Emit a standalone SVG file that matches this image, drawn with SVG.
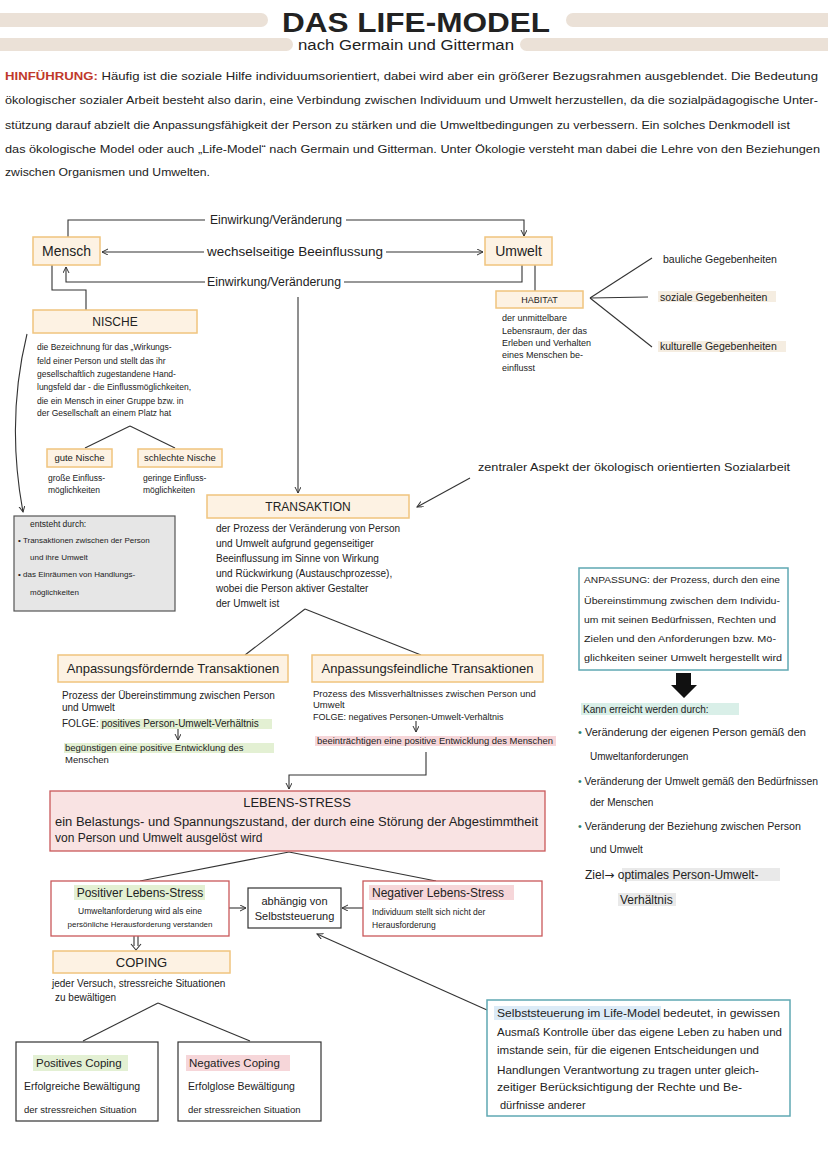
<svg xmlns="http://www.w3.org/2000/svg" width="828" height="1171" viewBox="0 0 828 1171">
<defs>
<marker id="ah" markerWidth="8" markerHeight="8" refX="6" refY="3" orient="auto" markerUnits="userSpaceOnUse">
<path d="M0,0 L6,3 L0,6" fill="none" stroke="#333" stroke-width="1"/>
</marker>
<style>
text{font-family:"Liberation Sans",Arial,sans-serif;fill:#222}
.bar{fill:#ebe1d7}
.ob{fill:#fdf2e3;stroke:#f0c47e;stroke-width:1.5}
.rb{fill:#f9e3e3;stroke:#c9585a;stroke-width:1.3}
.rw{fill:#fff;stroke:#c9585a;stroke-width:1.3}
.kb{fill:#fff;stroke:#333;stroke-width:1.2}
.tb{fill:#fff;stroke:#5fa8b3;stroke-width:1.5}
.gb{fill:#e6e6e6;stroke:#555;stroke-width:1.2}
.ln{fill:none;stroke:#333;stroke-width:1.1}
.hg{fill:#e3f0d3}
.hp{fill:#f6d6d9}
.hb{fill:#dcebf7}
.ht{fill:#d9efe8}
.hy{fill:#e9e9e9}
.hc{fill:#f5ede1}
.s8{font-size:8px}
.s85{font-size:8.5px}
.s9{font-size:9px}
.s95{font-size:9.5px}
.s10{font-size:10px}
.s105{font-size:10.5px}
.s11{font-size:11px}
.s115{font-size:11.5px}
.s12{font-size:12px}
.s13{font-size:13px}
.s14{font-size:14px}
.mid{text-anchor:middle}
</style>
</defs>

<g id="header">
<rect class="bar" x="-10" y="13" width="278" height="14" rx="7"/>
<rect class="bar" x="566" y="13" width="272" height="14" rx="7"/>
<rect class="bar" x="-10" y="38" width="303" height="13" rx="6.5"/>
<rect class="bar" x="520" y="38" width="318" height="13" rx="6.5"/>
<text x="282" y="32" font-size="27" font-weight="bold" textLength="268" lengthAdjust="spacingAndGlyphs">DAS LIFE-MODEL</text>
<text x="298" y="50" class="s14" textLength="216" lengthAdjust="spacingAndGlyphs">nach Germain und Gitterman</text>
</g>

<g id="intro" class="s11">
<text x="5" y="80" textLength="813" lengthAdjust="spacingAndGlyphs"><tspan font-weight="bold" style="fill:#c0392b">HINFÜHRUNG:</tspan> Häufig ist die soziale Hilfe individuumsorientiert, dabei wird aber ein größerer Bezugsrahmen ausgeblendet. Die Bedeutung</text>
<text x="5" y="104" textLength="813" lengthAdjust="spacingAndGlyphs">ökologischer sozialer Arbeit besteht also darin, eine Verbindung zwischen Individuum und Umwelt herzustellen, da die sozialpädagogische Unter-</text>
<text x="5" y="129" textLength="785" lengthAdjust="spacingAndGlyphs">stützung darauf abzielt die Anpassungsfähigkeit der Person zu stärken und die Umweltbedingungen zu verbessern. Ein solches Denkmodell ist</text>
<text x="5" y="153" textLength="815" lengthAdjust="spacingAndGlyphs">das ökologische Model oder auch „Life-Model“ nach Germain und Gitterman. Unter Ökologie versteht man dabei die Lehre von den Beziehungen</text>
<text x="5" y="176" textLength="205" lengthAdjust="spacingAndGlyphs">zwischen Organismen und Umwelten.</text>
</g>

<g id="connectors">
<polyline class="ln" points="68,237 68,220 205,220"/>
<polyline class="ln" points="346,220 524,220 524,236" marker-end="url(#ah)"/>
<line class="ln" x1="204" y1="252" x2="102" y2="252" marker-end="url(#ah)"/>
<line class="ln" x1="386" y1="252" x2="483" y2="252" marker-end="url(#ah)"/>
<polyline class="ln" points="522,265 522,282 344,282"/>
<polyline class="ln" points="205,282 66,282 66,267" marker-end="url(#ah)"/>
<line class="ln" x1="298" y1="297" x2="298" y2="493" marker-end="url(#ah)"/>
<polyline class="ln" points="52,265 52,290 86,290 86,310"/>
<line class="ln" x1="535" y1="265" x2="535" y2="291"/>
<line class="ln" x1="590" y1="298" x2="652" y2="258"/>
<line class="ln" x1="590" y1="298" x2="648" y2="297"/>
<line class="ln" x1="590" y1="298" x2="652" y2="347"/>
<line class="ln" x1="130" y1="426" x2="85" y2="448"/>
<line class="ln" x1="130" y1="426" x2="175" y2="448"/>
<path class="ln" d="M27,334 Q6,420 23,512" marker-end="url(#ah)"/>
<line class="ln" x1="470" y1="478" x2="417" y2="507" marker-end="url(#ah)"/>
<line class="ln" x1="305" y1="609" x2="245" y2="655"/>
<line class="ln" x1="305" y1="609" x2="421" y2="655"/>
<line class="ln" x1="178" y1="729" x2="178" y2="740" marker-end="url(#ah)"/>
<line class="ln" x1="416" y1="721" x2="416" y2="732" marker-end="url(#ah)"/>
<polyline class="ln" points="426,752 426,775 289,775 289,789" marker-end="url(#ah)"/>
<line class="ln" x1="289" y1="852" x2="140" y2="881"/>
<line class="ln" x1="289" y1="852" x2="436" y2="881"/>
<line class="ln" x1="229" y1="908" x2="246" y2="908" marker-end="url(#ah)"/>
<line class="ln" x1="363" y1="908" x2="342" y2="908" marker-end="url(#ah)"/>
<line class="ln" x1="134" y1="936" x2="134" y2="946"/>
<line class="ln" x1="138" y1="936" x2="138" y2="946"/>
<polyline class="ln" points="131,944 136,950 141,944"/>
<line class="ln" x1="158" y1="1003" x2="83" y2="1041"/>
<line class="ln" x1="158" y1="1003" x2="250" y2="1041"/>
<line class="ln" x1="487" y1="1010" x2="317" y2="934" marker-end="url(#ah)"/>
<polygon points="676,673 691,673 691,685 697,685 684,698 671,685 676,685" fill="#111"/>
</g>

<g id="edge-labels" class="s12">
<text x="210" y="224" textLength="132" lengthAdjust="spacingAndGlyphs">Einwirkung/Veränderung</text>
<text x="207" y="256" class="s13" textLength="176" lengthAdjust="spacingAndGlyphs">wechselseitige Beeinflussung</text>
<text x="207" y="286" textLength="134" lengthAdjust="spacingAndGlyphs">Einwirkung/Veränderung</text>
</g>

<g id="mensch">
<rect class="ob" x="33" y="237" width="67" height="28"/>
<text x="66.5" y="256" class="s14 mid">Mensch</text>
</g>

<g id="umwelt">
<rect class="ob" x="485" y="237" width="67" height="28"/>
<text x="518.5" y="256" class="s14 mid">Umwelt</text>
</g>

<g id="habitat">
<rect class="ob" x="496" y="291" width="87" height="17"/>
<text x="539.5" y="303" class="s9 mid">HABITAT</text>
<text class="s9" x="502" y="321">der unmittelbare</text>
<text class="s9" x="502" y="334">Lebensraum, der das</text>
<text class="s9" x="502" y="346">Erleben und Verhalten</text>
<text class="s9" x="502" y="358">eines Menschen be-</text>
<text class="s9" x="502" y="371">einflusst</text>
</g>

<g id="gegebenheiten" class="s105">
<text x="663" y="263">bauliche Gegebenheiten</text>
<rect class="hc" x="658" y="291" width="118" height="11"/>
<text x="660" y="301">soziale Gegebenheiten</text>
<rect class="hc" x="658" y="341" width="128" height="11"/>
<text x="660" y="350">kulturelle Gegebenheiten</text>
</g>

<g id="nische">
<rect class="ob" x="33" y="310" width="164" height="23"/>
<text x="115" y="326" class="s12 mid">NISCHE</text>
<text class="s85" x="37" y="350">die Bezeichnung für das „Wirkungs-</text>
<text class="s85" x="37" y="364">feld einer Person und stellt das ihr</text>
<text class="s85" x="37" y="377">gesellschaftlich zugestandene Hand-</text>
<text class="s85" x="37" y="390">lungsfeld dar - die Einflussmöglichkeiten,</text>
<text class="s85" x="37" y="404">die ein Mensch in einer Gruppe bzw. in</text>
<text class="s85" x="37" y="416">der Gesellschaft an einem Platz hat</text>
</g>

<g id="gute-nische">
<rect class="ob" x="47" y="449" width="65" height="18"/>
<text x="79.5" y="461" class="s95 mid">gute Nische</text>
<text class="s85" x="48" y="481">große Einfluss-</text>
<text class="s85" x="48" y="493">möglichkeiten</text>
</g>

<g id="schlechte-nische">
<rect class="ob" x="138" y="449" width="84" height="18"/>
<text x="180" y="461" class="s95 mid">schlechte Nische</text>
<text class="s85" x="143" y="481">geringe Einfluss-</text>
<text class="s85" x="143" y="493">möglichkeiten</text>
</g>

<g id="entsteht">
<rect class="gb" x="14" y="516" width="161" height="95"/>
<text class="s85" x="30" y="527">entsteht durch:</text>
<text class="s8" x="18" y="543">• Transaktionen zwischen der Person</text>
<text class="s8" x="30" y="560">und ihre Umwelt</text>
<text class="s8" x="18" y="577">• das Einräumen von Handlungs-</text>
<text class="s8" x="30" y="595">möglichkeiten</text>
</g>

<g id="zentraler-aspekt">
<text class="s11" x="478" y="471" textLength="312" lengthAdjust="spacingAndGlyphs">zentraler Aspekt der ökologisch orientierten Sozialarbeit</text>
</g>

<g id="transaktion">
<rect class="ob" x="207" y="495" width="202" height="23"/>
<text x="308" y="511" class="s12 mid">TRANSAKTION</text>
<text class="s10" x="216" y="532">der Prozess der Veränderung von Person</text>
<text class="s10" x="216" y="547">und Umwelt aufgrund gegenseitiger</text>
<text class="s10" x="216" y="562">Beeinflussung im Sinne von Wirkung</text>
<text class="s10" x="216" y="577">und Rückwirkung (Austauschprozesse),</text>
<text class="s10" x="216" y="592">wobei die Person aktiver Gestalter</text>
<text class="s10" x="216" y="607">der Umwelt ist</text>
</g>

<g id="anpassungsfoerdernd">
<rect class="ob" x="58" y="655" width="230" height="27"/>
<text x="173" y="673" class="s13 mid">Anpassungsfördernde Transaktionen</text>
<text class="s10" x="62" y="699">Prozess der Übereinstimmung zwischen Person</text>
<text class="s10" x="62" y="711">und Umwelt</text>
<rect class="hg" x="100" y="719" width="172" height="10"/>
<text class="s10" x="62" y="727">FOLGE: positives Person-Umwelt-Verhältnis</text>
<rect class="hg" x="64" y="743" width="210" height="10"/>
<text class="s95" x="65" y="751">begünstigen eine positive Entwicklung des</text>
<text class="s95" x="65" y="763">Menschen</text>
</g>

<g id="anpassungsfeindlich">
<rect class="ob" x="312" y="655" width="231" height="27"/>
<text x="427.5" y="673" class="s13 mid">Anpassungsfeindliche Transaktionen</text>
<text class="s95" x="313" y="697">Prozess des Missverhältnisses zwischen Person und</text>
<text class="s95" x="313" y="708">Umwelt</text>
<text class="s9" x="313" y="720">FOLGE: negatives Personen-Umwelt-Verhältnis</text>
<rect class="hp" x="315" y="736" width="241" height="10"/>
<text class="s85" x="317" y="744" textLength="236" lengthAdjust="spacingAndGlyphs">beeinträchtigen eine positive Entwicklung des Menschen</text>
</g>

<g id="anpassung">
<rect class="tb" x="579" y="568" width="209" height="102"/>
<text class="s95" x="584" y="583" textLength="196" lengthAdjust="spacingAndGlyphs">ANPASSUNG: der Prozess, durch den eine</text>
<text class="s95" x="584" y="604" textLength="196" lengthAdjust="spacingAndGlyphs">Übereinstimmung zwischen dem Individu-</text>
<text class="s95" x="584" y="623" textLength="192" lengthAdjust="spacingAndGlyphs">um mit seinen Bedürfnissen, Rechten und</text>
<text class="s95" x="584" y="642" textLength="192" lengthAdjust="spacingAndGlyphs">Zielen und den Anforderungen bzw. Mö-</text>
<text class="s95" x="584" y="661" textLength="198" lengthAdjust="spacingAndGlyphs">glichkeiten seiner Umwelt hergestellt wird</text>
</g>

<g id="kann-erreicht">
<rect class="ht" x="581" y="703" width="158" height="12"/>
<text class="s10" x="583" y="713">Kann erreicht werden durch:</text>
<text class="s10" x="578" y="736" textLength="228" lengthAdjust="spacingAndGlyphs"><tspan style="fill:#2f7f6f">•</tspan> Veränderung der eigenen Person gemäß den</text>
<text class="s10" x="590" y="760">Umweltanforderungen</text>
<text class="s10" x="578" y="785" textLength="240" lengthAdjust="spacingAndGlyphs"><tspan style="fill:#2f7f6f">•</tspan> Veränderung der Umwelt gemäß den Bedürfnissen</text>
<text class="s10" x="590" y="806">der Menschen</text>
<text class="s10" x="578" y="830" textLength="223" lengthAdjust="spacingAndGlyphs"><tspan style="fill:#2f7f6f">•</tspan> Veränderung der Beziehung zwischen Person</text>
<text class="s10" x="590" y="853">und Umwelt</text>
<rect class="hy" x="622" y="868" width="158" height="13"/>
<text class="s12" x="585" y="879">Ziel<tspan style="font-family:'DejaVu Sans',sans-serif">→</tspan> optimales Person-Umwelt-</text>
<rect class="hy" x="618" y="893" width="58" height="13"/>
<text class="s12" x="620" y="904">Verhältnis</text>
</g>

<g id="lebens-stress">
<rect class="rb" x="50" y="791" width="495" height="60"/>
<text x="297" y="807" class="s13 mid">LEBENS-STRESS</text>
<text class="s12" x="55" y="826" textLength="483" lengthAdjust="spacingAndGlyphs">ein Belastungs- und Spannungszustand, der durch eine Störung der Abgestimmtheit</text>
<text class="s12" x="55" y="842">von Person und Umwelt ausgelöst wird</text>
</g>

<g id="positiver-stress">
<rect class="rw" x="51" y="881" width="178" height="55"/>
<rect class="hg" x="74" y="885" width="131" height="15"/>
<text x="140" y="897" class="s12 mid">Positiver Lebens-Stress</text>
<text x="140" y="914" class="s85 mid">Umweltanforderung wird als eine</text>
<text x="140" y="927" class="s8 mid">persönliche Herausforderung verstanden</text>
</g>

<g id="selbststeuerung-node">
<rect class="kb" x="248" y="888" width="93" height="40"/>
<text x="294.5" y="905" class="s11 mid">abhängig von</text>
<text x="294.5" y="920" class="s11 mid">Selbststeuerung</text>
</g>

<g id="negativer-stress">
<rect class="rw" x="363" y="881" width="179" height="55"/>
<rect class="hp" x="369" y="885" width="145" height="15"/>
<text x="372" y="897" class="s12">Negativer Lebens-Stress</text>
<text x="372" y="915" class="s85">Individuum stellt sich nicht der</text>
<text x="372" y="928" class="s85">Herausforderung</text>
</g>

<g id="coping">
<rect class="ob" x="53" y="951" width="177" height="22"/>
<text x="141.5" y="967" class="s13 mid">COPING</text>
<text class="s10" x="52" y="987">jeder Versuch, stressreiche Situationen</text>
<text class="s10" x="55" y="1001">zu bewältigen</text>
</g>

<g id="positives-coping">
<rect class="kb" x="16" y="1042" width="142" height="79"/>
<rect class="hg" x="33" y="1055" width="95" height="16"/>
<text class="s115" x="36" y="1067">Positives Coping</text>
<text class="s105" x="24" y="1090">Erfolgreiche Bewältigung</text>
<text class="s95" x="24" y="1113">der stressreichen Situation</text>
</g>

<g id="negatives-coping">
<rect class="kb" x="178" y="1042" width="143" height="79"/>
<rect class="hp" x="186" y="1055" width="104" height="16"/>
<text class="s115" x="189" y="1067">Negatives Coping</text>
<text class="s105" x="188" y="1090">Erfolglose Bewältigung</text>
<text class="s95" x="188" y="1113">der stressreichen Situation</text>
</g>

<g id="selbststeuerung-info">
<rect class="tb" x="487" y="1000" width="303" height="116"/>
<rect class="hb" x="494" y="1006" width="167" height="14"/>
<text class="s11" x="497" y="1017" textLength="283" lengthAdjust="spacingAndGlyphs">Selbststeuerung im Life-Model bedeutet, in gewissen</text>
<text class="s11" x="497" y="1036" textLength="285" lengthAdjust="spacingAndGlyphs">Ausmaß Kontrolle über das eigene Leben zu haben und</text>
<text class="s11" x="497" y="1054" textLength="262" lengthAdjust="spacingAndGlyphs">imstande sein, für die eigenen Entscheidungen und</text>
<text class="s11" x="497" y="1074" textLength="262" lengthAdjust="spacingAndGlyphs">Handlungen Verantwortung zu tragen unter gleich-</text>
<text class="s11" x="497" y="1091" textLength="245" lengthAdjust="spacingAndGlyphs">zeitiger Berücksichtigung der Rechte und Be-</text>
<text class="s11" x="500" y="1109">dürfnisse anderer</text>
</g>
</svg>
